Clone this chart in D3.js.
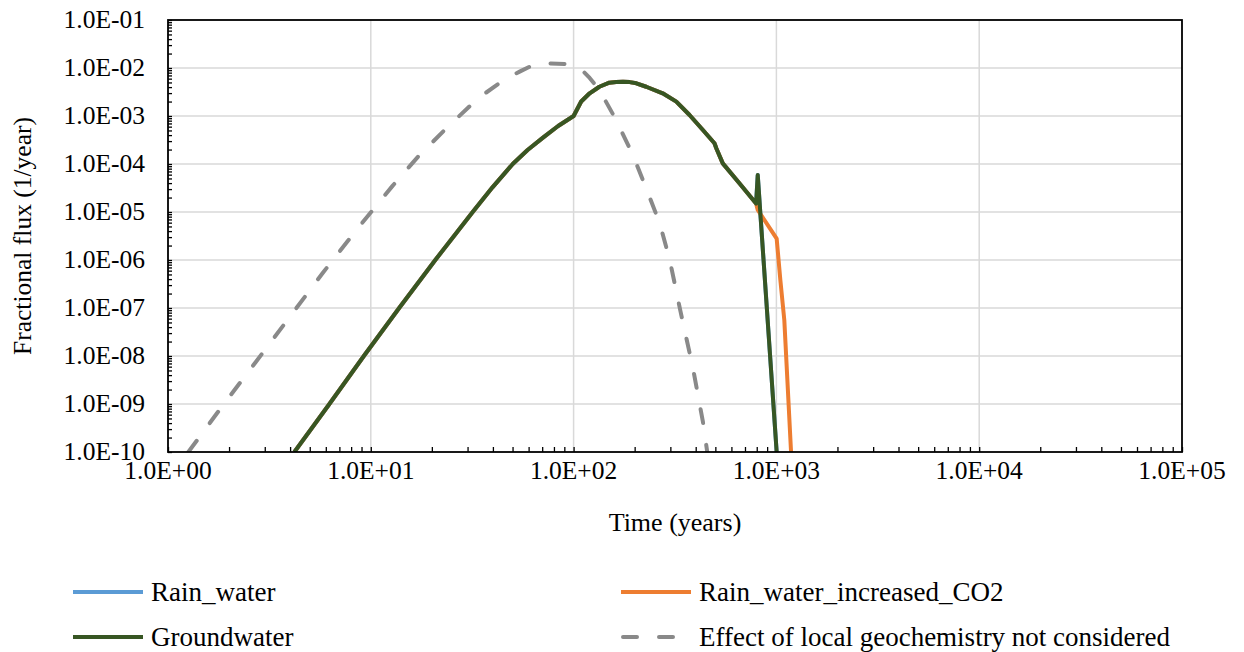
<!DOCTYPE html>
<html><head><meta charset="utf-8">
<script src="https://cdn.jsdelivr.net/npm/d3@7"></script>
<style>body{margin:0;background:#fff;} svg text{font-family:"Liberation Serif","Times New Roman","DejaVu Serif",serif;fill:#000;}</style>
</head><body><svg id="c" width="1244" height="652"></svg>
<script>
const seriesNames = ["Rain_water","Rain_water_increased_CO2","Groundwater","Effect of local geochemistry not considered"];
const xTickLabels = ["1.0E+00","1.0E+01","1.0E+02","1.0E+03","1.0E+04","1.0E+05"];
const yTickLabels = ["1.0E-01","1.0E-02","1.0E-03","1.0E-04","1.0E-05","1.0E-06","1.0E-07","1.0E-08","1.0E-09","1.0E-10"];
const xTickValues = [1,10,100,1000,10000,100000];
const yTickValues = [1e-1,1e-2,1e-3,1e-4,1e-5,1e-6,1e-7,1e-8,1e-9,1e-10];

// [time (years), fractional flux (1/year)]
const groundwater = [[4.20,1e-10],[6.25,1e-9],[9.24,1e-8],[13.8,1e-7],[20.8,1e-6],[31.8,1e-5],[39.9,3.3e-5],[50.1,1e-4],[59.3,1.96e-4],[70.4,3.5e-4],[83.9,6.2e-4],[100,1.0e-3],[109,2.0e-3],[120,2.97e-3],[134,4.07e-3],[150,4.94e-3],[162,5.12e-3],[175,5.19e-3],[189,5.08e-3],[204,4.8e-3],[228,4.07e-3],[275,2.97e-3],[321,1.99e-3],[373,1.05e-3],[434,5.1e-4],[495,2.7e-4],[506,2.1e-4],[544,1.03e-4],[657,3.96e-5],[794,1.5e-5],[809,5.9e-5],[1003,1e-10]];
const rainWater = [[4.20,1e-10],[6.25,1e-9],[9.24,1e-8],[13.8,1e-7],[20.8,1e-6],[31.8,1e-5],[39.9,3.3e-5],[50.1,1e-4],[59.3,1.96e-4],[70.4,3.5e-4],[83.9,6.2e-4],[100,1.0e-3],[109,2.0e-3],[120,2.97e-3],[134,4.07e-3],[150,4.94e-3],[162,5.12e-3],[175,5.19e-3],[189,5.08e-3],[204,4.8e-3],[228,4.07e-3],[275,2.97e-3],[321,1.99e-3],[373,1.05e-3],[434,5.1e-4],[495,2.7e-4],[506,2.1e-4],[544,1.03e-4],[657,3.96e-5],[794,1.5e-5],[809,5.9e-5],[1003,1e-10]];
const rainWaterCO2 = [[4.20,1e-10],[6.25,1e-9],[9.24,1e-8],[13.8,1e-7],[20.8,1e-6],[31.8,1e-5],[39.9,3.3e-5],[50.1,1e-4],[59.3,1.96e-4],[70.4,3.5e-4],[83.9,6.2e-4],[100,1.0e-3],[109,2.0e-3],[120,2.97e-3],[134,4.07e-3],[150,4.94e-3],[162,5.12e-3],[175,5.19e-3],[189,5.08e-3],[204,4.8e-3],[228,4.07e-3],[275,2.97e-3],[321,1.99e-3],[373,1.05e-3],[434,5.1e-4],[495,2.7e-4],[506,2.1e-4],[544,1.03e-4],[657,3.96e-5],[794,1.5e-5],[809,1.1e-5],[1003,2.8e-6],[1046,3.8e-7],[1094,5.6e-8],[1181,1e-10]];
const noGeochem = [[1.26,1e-10],[1.84,8.7e-10],[2.71,7.5e-9],[3.96,6.3e-8],[5.78,5.3e-7],[8.56,4.4e-6],[12.8,3.5e-5],[17.1,1.42e-4],[23.1,5.1e-4],[33.8,2.34e-3],[46.6,6.1e-3],[54.2,8.4e-3],[63,1.15e-2],[76.2,1.25e-2],[90.3,1.21e-2],[101,1.05e-2],[111,8.7e-3],[120,6.2e-3],[134,3.5e-3],[162,8.3e-4],[196,1.54e-4],[228,3.1e-5],[266,5.8e-6],[298,1.0e-6],[337,8.3e-8],[388,5.5e-9],[434,4.3e-10],[456,1e-10]];

const colors = ["#5B9BD5","#ED7D31","#375623","#898989"];

const svg = d3.select("#c");
const m = {l:168, r:1182, t:20, b:452};
const x = d3.scaleLog().domain([1,1e5]).range([m.l,m.r]);
const y = d3.scaleLog().domain([1e-10,1e-1]).range([m.b,m.t]);
const FF = "'Liberation Serif','Times New Roman','DejaVu Serif',serif";

// gridlines
const g = svg.append("g");
g.selectAll(".gx").data(xTickValues.slice(1,-1)).enter().append("line")
 .attr("x1",d=>x(d)).attr("x2",d=>x(d)).attr("y1",m.t).attr("y2",m.b)
 .attr("stroke","#d9d9d9").attr("stroke-width",1.5);
g.selectAll(".gy").data(yTickValues.slice(1,-1)).enter().append("line")
 .attr("y1",d=>y(d)).attr("y2",d=>y(d)).attr("x1",m.l).attr("x2",m.r)
 .attr("stroke","#d9d9d9").attr("stroke-width",1.5);

// minor ticks
const xMinor = [], yMinor = [];
for (let e=0;e<5;e++) for (let k=2;k<=9;k++) xMinor.push(k*Math.pow(10,e));
for (let e=-10;e<-1;e++) for (let k=2;k<=9;k++) yMinor.push(k*Math.pow(10,e));
const xAxis = d3.axisBottom(x).tickValues(xMinor.concat(xTickValues)).tickSize(-5).tickFormat("");
const yAxis = d3.axisLeft(y).tickValues(yMinor.concat(yTickValues)).tickSize(-4).tickFormat("");
const xa = svg.append("g").attr("transform",`translate(0,${m.b})`).call(xAxis);
const ya = svg.append("g").attr("transform",`translate(${m.l},0)`).call(yAxis);
[xa,ya].forEach(a=>{a.select(".domain").remove();a.selectAll("line").attr("stroke","#000").attr("stroke-width",1.3);});

// lines
svg.append("clipPath").attr("id","pc").append("rect")
 .attr("x",m.l).attr("y",m.t-2).attr("width",m.r-m.l).attr("height",m.b-m.t+2);
const line = d3.line().x(d=>x(d[0])).y(d=>y(d[1])).curve(d3.curveLinear);
const lg = svg.append("g").attr("clip-path","url(#pc)");
const allSeries = [rainWater, rainWaterCO2, groundwater, noGeochem];
allSeries.forEach((s,i)=>{
  const p = lg.append("path").datum(s).attr("d",line).attr("fill","none")
   .attr("stroke",colors[i]).attr("stroke-width",4).attr("stroke-linejoin","round").attr("stroke-linecap", i===3?"round":"butt");
  if (i===3) p.attr("stroke-dasharray","14,22");
});

// frame
svg.append("rect").attr("x",m.l).attr("y",m.t).attr("width",m.r-m.l).attr("height",m.b-m.t)
 .attr("fill","none").attr("stroke","#000").attr("stroke-width",1.8);

// tick labels
svg.selectAll(".xl").data(xTickValues).enter().append("text")
 .attr("x",d=>x(d)).attr("y",m.b+27).attr("text-anchor","middle").attr("font-size",25.5).attr("font-family",FF)
 .text((d,i)=>xTickLabels[i]);
svg.selectAll(".yl").data(yTickValues).enter().append("text")
 .attr("x",m.l-23).attr("y",d=>y(d)).attr("dy","0.33em").attr("text-anchor","end").attr("font-size",25.5).attr("font-family",FF)
 .text((d,i)=>yTickLabels[i]);

// axis titles
svg.append("text").attr("x",(m.l+m.r)/2).attr("y",531).attr("text-anchor","middle").attr("font-size",26).attr("font-family",FF).text("Time (years)");
svg.append("text").attr("transform",`translate(31,${(m.t+m.b)/2}) rotate(-90)`).attr("text-anchor","middle").attr("font-size",25.5).attr("font-family",FF).text("Fractional flux (1/year)");

// legend
const leg = [{i:0,x:73,y:592},{i:1,x:621,y:592},{i:2,x:73,y:637},{i:3,x:621,y:637}];
leg.forEach(o=>{
  const l = svg.append("line").attr("x1",o.x).attr("x2",o.x+70).attr("y1",o.y).attr("y2",o.y)
   .attr("stroke",colors[o.i]).attr("stroke-width",4).attr("stroke-linecap",o.i===3?"round":"butt");
  if (o.i===3) l.attr("stroke-dasharray","14,22").attr("stroke-dashoffset",-2);
  svg.append("text").attr("x",o.x+78).attr("y",o.y).attr("dy","0.33em").attr("font-size",27).attr("font-family",FF).text(seriesNames[o.i]);
});
</script></body></html>
